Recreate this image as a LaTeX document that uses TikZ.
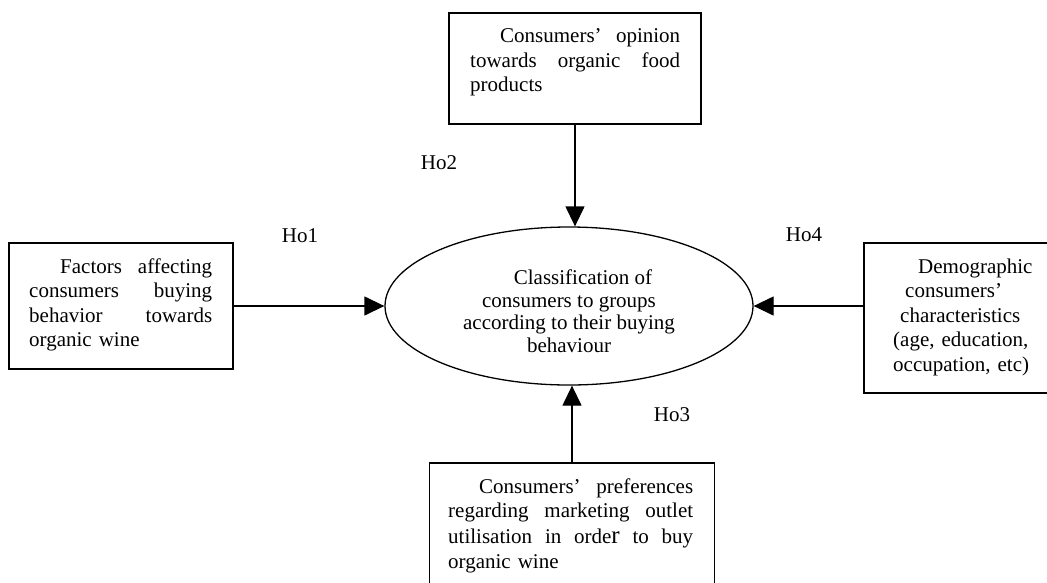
\documentclass[tikz,border=0pt]{standalone}
\usepackage{fontspec}
\setmainfont{Liberation Serif}
\usetikzlibrary{arrows.meta,shapes.geometric}
\tikzset{
  box/.style={draw, line width=1.3pt, rectangle, inner sep=0pt},
  boxtext/.style={anchor=north west, inner sep=0pt, align=left,
    font=\fontsize{21}{24.5}\selectfont},
  hlabel/.style={inner sep=0pt, font=\fontsize{21}{24.5}\selectfont},
  arr/.style={line width=1.3pt, -{Triangle[length=20pt,width=19pt]}},
}
\begin{document}
\begin{tikzpicture}[x=1pt,y=-1pt]
\clip (0,0) rectangle (1047,582);
\fill[white] (0,0) rectangle (1047,582);

% boxes
\node[box, minimum width=252pt, minimum height=111pt] (tbox) at (575,68.5) {};
\node[box, minimum width=224pt, minimum height=126pt] (lbox) at (121,306) {};
\node[box, minimum width=196pt, minimum height=150pt] (rbox) at (962,318) {};
\node[box, minimum width=285pt, minimum height=137pt] (bbox) at (572,531.5) {};

% ellipse
\node[draw, line width=1.3pt, ellipse, minimum width=368pt, minimum height=158pt,
      inner sep=0pt] (ell) at (569,306) {};
\node[inner sep=0pt, align=center, font=\fontsize{21}{22.5}\selectfont] (etext) at (569,311)
  {\hspace*{28pt}Classification of\\consumers to groups\\according to their buying\\behaviour};

% box texts
\node[boxtext, text width=210pt] (ttext) at (470,28.5)
  {\hspace*{30pt}Consumers’ \hfill opinion\\
   towards \hfill organic \hfill food\\
   products};
\node[boxtext, text width=183pt] (ltext) at (29,258.5)
  {\hspace*{31pt}Factors \hfill affecting\\
   consumers \hfill buying\\
   behavior \hfill towards\\
   organic wine};
\node[boxtext, text width=140pt] (rtext) at (893,258.5)
  {\hspace*{25pt}Demographic\\
   \hspace*{12pt}consumers’\\
   \hspace*{7pt}characteristics\\
   (age, education,\\
   occupation, etc)};
\node[boxtext, text width=245pt] (btext) at (448,478.5)
  {\hspace*{31pt}Consumers’ \hfill preferences\\
   regarding \hfill marketing \hfill outlet\\[1.5pt]
   utilisation \hfill in \hfill orde{\fontsize{25}{25}\selectfont r} \hfill to \hfill buy\\
   organic wine};

% labels
\node[hlabel] (ho2) at (439,163) {Ho2};
\node[hlabel] (ho1) at (300,236) {Ho1};
\node[hlabel] (ho4) at (804,235) {Ho4};
\node[hlabel] (ho3) at (672,415) {Ho3};

% arrows
\draw[arr] (tbox.south) -- (tbox.south |- ell.north);
\draw[arr] (lbox.east) -- (lbox.east -| ell.west);
\draw[arr] (rbox.west |- ell.east) -- (ell.east);
\draw[arr] (bbox.north) -- (bbox.north |- ell.south);
\end{tikzpicture}
\end{document}
